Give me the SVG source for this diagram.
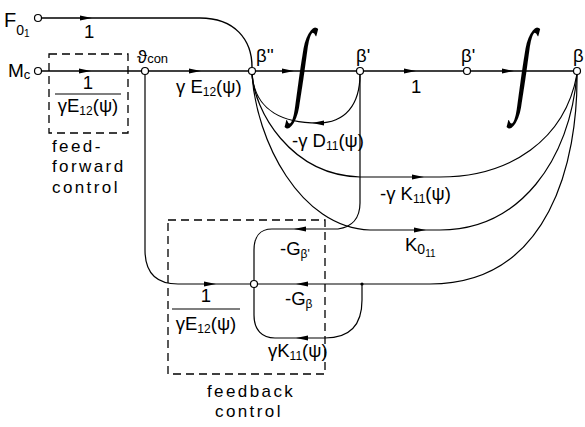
<svg xmlns="http://www.w3.org/2000/svg" xmlns:xlink="http://www.w3.org/1999/xlink" width="585" height="427" viewBox="0 0 585 427">
<style>
.ln{fill:none;stroke:#000;stroke-width:1.4}
.cv{fill:none;stroke:#000;stroke-width:1.2}
.box{fill:none;stroke:#000;stroke-width:1.3;stroke-dasharray:8,5}
.nd{fill:#fff;stroke:#000;stroke-width:1.2}
.t{font-family:"Liberation Sans","DejaVu Sans",sans-serif;font-size:18.5px;fill:#000}
.s{font-size:12px}
.ss{font-size:10px}
.sm{font-family:"Liberation Sans","DejaVu Sans",sans-serif;font-size:17px;fill:#000;letter-spacing:2.4px}
.int{font-family:"Liberation Serif","DejaVu Serif",serif;font-style:italic;font-size:70px;fill:#000}
</style>
<defs>
<path id="ar" d="M-6,-2.6 L6,0 L-6,2.6 Z" fill="#000"/>
</defs>
<g id="connectors">
<path class="ln" d="M41,18 L200,18 C235,18 252,40 252,67"/>
<path class="ln" d="M41,71 L573,71"/>
<path class="cv" d="M252,74 C255,112 285,123 318,123 C345,123 360,105 360,74"/>
<path class="cv" d="M252,74 C254,110 290,175 360,177 L440,177 C510,177 565,140 577,74"/>
<path class="cv" d="M252,74 C256,140 300,228 370,230 L440,230 C520,230 570,160 577,74"/>
<path class="cv" d="M577,74 C578,160 550,284 430,284 L258,284"/>
<path class="cv" d="M360,74 L360,203 C360,218 352,227 338,229 L272,229 C260,229 254,237 254,250 L254,280"/>
<path class="cv" d="M145,74 L145,250 C145,272 155,284 178,284 L250,284"/>
<path class="cv" d="M362,284 L362,300 C362,325 350,338 325,338 L275,338 C262,338 254,330 254,315 L254,288"/>
<circle cx="362" cy="284" r="1.6" fill="#000"/>
<use xlink:href="#ar" transform="translate(86,18)"/>
<use xlink:href="#ar" transform="translate(85,71)"/>
<use xlink:href="#ar" transform="translate(195,71)"/>
<use xlink:href="#ar" transform="translate(288,71)"/>
<use xlink:href="#ar" transform="translate(410,71)"/>
<use xlink:href="#ar" transform="translate(508,71)"/>
<use xlink:href="#ar" transform="translate(318,123) rotate(180)"/>
<use xlink:href="#ar" transform="translate(418,177)"/>
<use xlink:href="#ar" transform="translate(420,230)"/>
<use xlink:href="#ar" transform="translate(300,229) rotate(180)"/>
<use xlink:href="#ar" transform="translate(302,284) rotate(180)"/>
<use xlink:href="#ar" transform="translate(210,284)"/>
<use xlink:href="#ar" transform="translate(302,338) rotate(180)"/>
</g>
<g id="F01">
<circle class="nd" cx="38" cy="18" r="3.5"/>
<text class="t" x="4" y="27" style="font-size:20px">F<tspan style="font-size:14px" dy="8">0</tspan><tspan style="font-size:10px" dy="2">1</tspan></text>
<text class="t" x="84" y="38">1</text>
</g>
<g id="Mc">
<circle class="nd" cx="38" cy="71" r="3.5"/>
<text class="t" x="8" y="77" style="font-size:19px">M<tspan style="font-size:13px" dy="2">c</tspan></text>
</g>
<g id="feedforward">
<rect class="box" x="49" y="54" width="79" height="79"/>
<text class="t" x="88" y="89" text-anchor="middle">1</text>
<line x1="55" y1="94" x2="121" y2="94" stroke="#000" stroke-width="1.2"/>
<text class="t" x="88" y="112" text-anchor="middle">γE<tspan class="s" dy="3">12</tspan><tspan dy="-3">(ψ)</tspan></text>
<text class="sm" x="52" y="152">feed-</text>
<text class="sm" x="52" y="172">forward</text>
<text class="sm" x="52" y="193">control</text>
</g>
<g id="theta">
<circle class="nd" cx="145" cy="71" r="3.5"/>
<text class="t" x="137" y="63">ϑ<tspan style="font-size:13px">con</tspan></text>
<text class="t" x="176" y="93">γ E<tspan class="s" dy="3">12</tspan><tspan dy="-3">(ψ)</tspan></text>
</g>
<g id="beta2">
<circle class="nd" cx="252" cy="71" r="3.5"/>
<text class="t" x="256" y="62">β''</text>
</g>
<g id="int1">
<text class="int" transform="translate(303,67) skewX(-8) scale(0.75,1.47)" x="0" y="0" text-anchor="middle" dominant-baseline="central">∫</text>
</g>
<g id="beta1a">
<circle class="nd" cx="360" cy="71" r="3.5"/>
<text class="t" x="356" y="62">β'</text>
<text class="t" x="411" y="93">1</text>
</g>
<g id="beta1b">
<circle class="nd" cx="467" cy="71" r="3.5"/>
<text class="t" x="461" y="62">β'</text>
</g>
<g id="int2">
<text class="int" transform="translate(525,67) skewX(-8) scale(0.75,1.47)" x="0" y="0" text-anchor="middle" dominant-baseline="central">∫</text>
</g>
<g id="beta">
<circle class="nd" cx="577" cy="71" r="3.5"/>
<text class="t" x="573" y="62">β</text>
</g>
<g id="labels">
<text class="t" x="292" y="147">-γ D<tspan class="s" dy="3">11</tspan><tspan dy="-3">(ψ)</tspan></text>
<text class="t" x="380" y="200">-γ K<tspan class="s" dy="3">11</tspan><tspan dy="-3">(ψ)</tspan></text>
<text class="t" x="405" y="251">K<tspan style="font-size:14px" dy="3">0</tspan><tspan style="font-size:10px" dy="3">11</tspan></text>
</g>
<g id="feedback">
<rect class="box" x="168" y="220" width="157" height="154"/>
<circle class="nd" cx="254" cy="284" r="3.5"/>
<text class="t" x="280" y="255">-G<tspan class="s" dy="3">β'</tspan></text>
<text class="t" x="285" y="305">-G<tspan class="s" dy="3">β</tspan></text>
<text class="t" x="268" y="357">γK<tspan class="s" dy="3">11</tspan><tspan dy="-3">(ψ)</tspan></text>
<text class="t" x="206" y="302" text-anchor="middle">1</text>
<line x1="172" y1="309" x2="240" y2="309" stroke="#000" stroke-width="1.2"/>
<text class="t" x="206" y="330" text-anchor="middle">γE<tspan class="s" dy="3">12</tspan><tspan dy="-3">(ψ)</tspan></text>
<text class="sm" x="207" y="397">feedback</text>
<text class="sm" x="215" y="417">control</text>
</g>
</svg>
